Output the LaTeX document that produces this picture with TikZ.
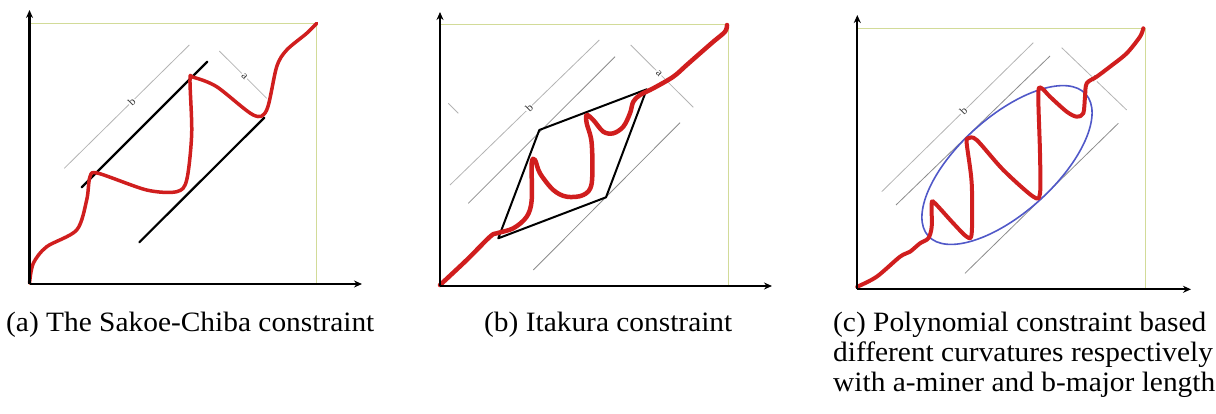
\documentclass[tikz,border=0pt]{standalone}
\usepackage{fontspec}
\setmainfont{Liberation Serif}[FakeStretch=1.05]
\usetikzlibrary{arrows.meta}
\definecolor{boxc}{HTML}{D2DB98}
\definecolor{curvered}{HTML}{D01E1E}
\definecolor{guidegray}{HTML}{B4B4B4}
\definecolor{ellblue}{HTML}{5058C8}
\begin{document}
\begin{tikzpicture}[x=1pt,y=-1pt,
 axis/.style={line width=2.2pt,-{Stealth[length=8pt,width=7pt]}},
 frame/.style={draw=boxc,line width=0.9pt},
 redpath/.style={draw=curvered,line width=3.5pt,line cap=round,line join=round},
 bound/.style={line width=2.2pt,line cap=round},
 guide/.style={draw=guidegray,line width=0.8pt},
 dimlab/.style={font=\fontsize{11}{11}\selectfont,text=black!80,fill=white,inner sep=1pt},
 caption/.style={font=\fontsize{28}{30}\selectfont,anchor=base west,inner sep=0pt}
]
\useasboundingbox (0,0) rectangle (1216,413);

% ---------- panel (a)
\coordinate (aO) at (29.5,284);
\coordinate (aY) at (29.5,10);
\coordinate (aX) at (362,284);
\coordinate (aTR) at (316,23);
\draw[frame] (aO) rectangle (aTR);
\coordinate (aB1) at (64.3,168.3); \coordinate (aB2) at (189.3,45);
\draw[guide] (aB1) -- (aB2) node[pos=0.54,dimlab,rotate=45] (aLb) {b};
\coordinate (aA1) at (219.3,51); \coordinate (aA2) at (266.7,98.3);
\draw[guide] (aA1) -- (aA2) node[pos=0.53,dimlab,rotate=-45] (aLa) {a};
\coordinate (aU1) at (81.7,187.3); \coordinate (aU2) at (207.3,61.7);
\coordinate (aD1) at (139.3,242.3); \coordinate (aD2) at (264.3,117.7);
\draw[bound] (aU1) -- (aU2);
\draw[bound] (aD1) -- (aD2);
\draw[redpath] plot[smooth,tension=0.5] coordinates {(29.5,283) (33.3,263.3) (46.7,246.7) (76.7,230) (86.7,200) (90,176.7) (98.3,173.3) (146.7,190) (176.7,191.7) (186.7,180) (191.7,133.3) (190,80) (193.3,77.3) (216.7,86.7) (253.3,115) (266.7,110) (276.7,66.7) (286.7,50) (306.7,33.3) (316.7,23.3)};
\draw[axis] (aO) -- (aY);
\draw[axis] (aO) -- (aX);

% ---------- panel (b)
\coordinate (bO) at (440,286);
\coordinate (bY) at (440,12);
\coordinate (bX) at (772,286);
\coordinate (bTR) at (728.3,24.3);
\draw[frame] (bO) rectangle (bTR);
\coordinate (bG1) at (450,185); \coordinate (bG2) at (599.3,40);
\draw[guide] (bG1) -- (bG2) node[pos=0.53,dimlab,rotate=45] (bLb) {b};
\coordinate (bT1) at (448.3,103.3); \coordinate (bT2) at (458.3,113.3);
\draw[guide] (bT1) -- (bT2);
\coordinate (bH1) at (468.3,203.3); \coordinate (bH2) at (615,56.7);
\draw[guide,draw=black!45] (bH1) -- (bH2);
\coordinate (bL1) at (533.3,270); \coordinate (bL2) at (680,122.7);
\draw[guide,draw=black!45] (bL1) -- (bL2);
\coordinate (bA1) at (630.7,45); \coordinate (bA2) at (693.3,107.3);
\draw[guide] (bA1) -- (bA2) node[pos=0.45,dimlab,rotate=-45] (bLa) {a};
\coordinate (bP1) at (498.3,238.3); \coordinate (bP2) at (539.3,130);
\coordinate (bP3) at (646.7,89.3); \coordinate (bP4) at (606,197.3);
\draw[bound,line width=2pt,line join=round] (bP1) -- (bP2) -- (bP3) -- (bP4) -- cycle;
\draw[redpath,line width=4.5pt] plot[smooth,tension=0.55] coordinates {(440,285) (466.7,260) (490,236.7) (496.7,233.3) (513.3,228.3) (526.7,216.7) (531.7,200) (531.7,163.3) (535,160) (540,173.3) (553.3,190) (566.7,196.7) (583.3,195) (591.7,183.3) (591.7,143.3) (586.7,123.3) (586.7,115) (593.3,120) (603.3,131.7) (613.3,133.3) (623.3,126.7) (630,113.3) (633.3,101.7) (640,95) (653.3,88.3) (673.3,76.7) (686.7,65) (700,53.3) (713.3,41.7) (725,31.7) (727,25)};
\draw[axis] (bO) -- (bY);
\draw[axis] (bO) -- (bX);

% ---------- panel (c)
\coordinate (cO) at (857.3,289.3);
\coordinate (cY) at (857.3,15);
\coordinate (cX) at (1191,289.3);
\coordinate (cTR) at (1145,28.7);
\draw[frame] (cO) rectangle (cTR);
\coordinate (cG1) at (881.7,191.7); \coordinate (cG2) at (1033.3,42.7);
\draw[guide] (cG1) -- (cG2) node[pos=0.54,dimlab,rotate=45] (cLb) {b};
\coordinate (cH1) at (896,205); \coordinate (cH2) at (1050,56);
\draw[guide,draw=black!45] (cH1) -- (cH2);
\coordinate (cL1) at (965,273.3); \coordinate (cL2) at (1118.3,123.3);
\draw[guide,draw=black!45] (cL1) -- (cL2);
\coordinate (cA1) at (1061.7,47.7); \coordinate (cA2) at (1126.7,110);
\draw[guide] (cA1) -- (cA2) node[pos=0.5,dimlab,rotate=-45] (cLa) {a};
\coordinate (cE) at (1007,165);
\draw[ellblue,line width=1.6pt,rotate around={42:(cE)}] (cE) ellipse (106 and 48);
\draw[redpath,line width=4pt] plot[smooth,tension=0.5] coordinates {(857.3,286.7) (876.7,276.7) (900,256.7) (910,251.7) (920,243.3) (928.3,238.3) (931.7,226.7) (931.7,203.3) (935,203.3) (953.3,223.3) (966.7,236.7) (971.7,233.3) (971.7,183.3) (966.7,143.3) (968.3,138.3) (976.7,140) (1003.3,170) (1033.3,196.7) (1040,193.3) (1040,153.3) (1038.3,93.3) (1041.7,88.3) (1050,96.7) (1066.7,111.7) (1076.7,116.7) (1083.3,113.3) (1085,96.7) (1086.7,83.3) (1096.7,76.7) (1110,66.7) (1126.7,53.3) (1140,36.7) (1143.3,28.3)};
\draw[axis] (cO) -- (cY);
\draw[axis] (cO) -- (cX);

% ---------- captions
\node[caption] (capA) at (6,331) {(a) The Sakoe-Chiba constraint};
\node[caption] (capB) at (484,331) {(b) Itakura constraint};
\node[caption] (capC1) at (833,331) {(c) Polynomial constraint based};
\node[caption] (capC2) at (833,361) {different curvatures respectively};
\node[caption] (capC3) at (833,391) {with a-miner and b-major length};
\end{tikzpicture}
\end{document}
